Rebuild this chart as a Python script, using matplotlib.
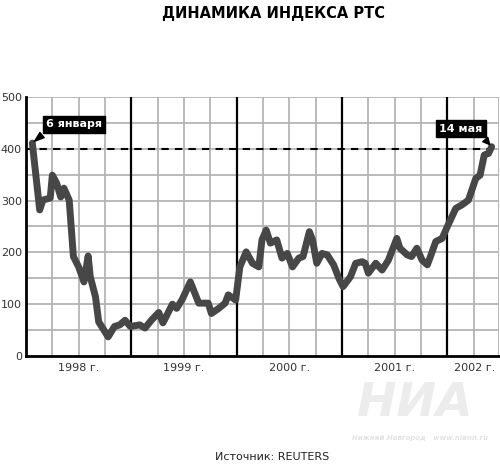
import numpy as np
import matplotlib.pyplot as plt

# RTS index (x in fractional years)
years = [1998.06, 1998.13, 1998.16, 1998.23, 1998.25, 1998.29, 1998.33, 1998.36, 1998.41,
         1998.45, 1998.50, 1998.55, 1998.59, 1998.61, 1998.66, 1998.69, 1998.78, 1998.84,
         1998.89, 1998.94, 1998.99, 1999.08, 1999.13, 1999.19, 1999.26, 1999.30, 1999.39,
         1999.43, 1999.48, 1999.56, 1999.64, 1999.73, 1999.76, 1999.83, 1999.89, 1999.92,
         1999.99, 2000.03, 2000.09, 2000.15, 2000.21, 2000.24, 2000.28, 2000.32, 2000.38,
         2000.43, 2000.48, 2000.53, 2000.59, 2000.63, 2000.69, 2000.72, 2000.76, 2000.81,
         2000.86, 2000.92, 2000.97, 2001.01, 2001.08, 2001.13, 2001.19, 2001.22, 2001.25,
         2001.32, 2001.38, 2001.44, 2001.52, 2001.55, 2001.62, 2001.66, 2001.71, 2001.76,
         2001.81, 2001.85, 2001.89, 2001.95, 2002.00, 2002.08, 2002.14, 2002.20, 2002.27,
         2002.31, 2002.35, 2002.39, 2002.42]
rts = [411, 282, 301, 305, 349, 334, 307, 324, 301,
       192, 172, 143, 193, 153, 114, 66, 37, 57,
       60, 69, 57, 60, 54, 69, 84, 64, 100,
       92, 108, 143, 102, 102, 82, 92, 102, 118,
       108, 172, 201, 179, 172, 224, 243, 218, 224,
       189, 198, 172, 189, 192, 240, 224, 179, 198,
       195, 176, 150, 134, 153, 179, 182, 179, 160,
       179, 166, 185, 227, 208, 195, 192, 208, 185,
       176, 198, 221, 227, 250, 285, 292, 301, 343,
       349, 388, 391, 404]

year_labels = ['1998 г.', '1999 г.', '2000 г.', '2001 г.', '2002 г.']
year_pos = [1998.5, 1999.5, 2000.5, 2001.5, 2002.26]
font = ['DejaVu Sans']

fig = plt.figure(figsize=(5, 4.67), dpi=100)
ax = fig.add_axes([0.052, 0.2377, 0.946, 0.5546])

ax.set_xlim(1998, 2002.49)
ax.set_ylim(0, 500)

# grid: quarters gray, years black
for q in np.arange(1998.25, 2002.49, 0.25):
    if abs(q - round(q)) < 1e-6:
        ax.axvline(q, color='black', lw=1.6, zorder=2)
    else:
        ax.axvline(q, color='#b4b4b4', lw=1.3, zorder=1)
for v in range(50, 501, 50):
    ax.axhline(v, color='#b4b4b4', lw=1.3, zorder=1)
ax.axvline(2002.49, color='#b4b4b4', lw=1.3, zorder=1)

ax.axhline(400, color='black', lw=1.5, ls=(0, (3.5, 3)), zorder=3)

ax.plot(years, rts, color='#474747', lw=5, solid_joinstyle='round',
        solid_capstyle='round', zorder=4)

for s in ['top', 'right']:
    ax.spines[s].set_visible(False)
ax.spines['left'].set_linewidth(2)
ax.spines['bottom'].set_linewidth(2)

ax.set_yticks(range(0, 501, 100))
ax.set_yticklabels([str(v) for v in range(0, 501, 100)], family=font,
                   fontsize=8, color='#333333')
ax.tick_params(axis='y', length=0, pad=3)
ax.set_xticks(year_pos)
ax.set_xticklabels(year_labels, family=font, fontsize=8, color='#333333')
ax.tick_params(axis='x', length=0, pad=5)

ax.annotate('6 января', xy=(years[0], rts[0]), xytext=(1998.19, 447),
            family=font, fontsize=8, fontweight='bold', color='white',
            va='center', ha='left', zorder=6,
            bbox=dict(boxstyle='square,pad=0.3', fc='black', ec='black'),
            arrowprops=dict(arrowstyle='wedge,tail_width=0.6,shrink_factor=0.5',
                            fc='black', ec='black', relpos=(0.05, 0.0)))
ax.annotate('14 мая', xy=(years[-1], rts[-1]), xytext=(2001.92, 439),
            family=font, fontsize=8, fontweight='bold', color='white',
            va='center', ha='left', zorder=6,
            bbox=dict(boxstyle='square,pad=0.3', fc='black', ec='black'),
            arrowprops=dict(arrowstyle='wedge,tail_width=0.6,shrink_factor=0.5',
                            fc='black', ec='black', relpos=(0.95, 0.0)))

fig.text(0.546, 0.972, 'ДИНАМИКА ИНДЕКСА РТС', family=font, fontsize=10.5,
         fontweight='bold', ha='center', va='center')
fig.text(0.544, 0.021, 'Источник: REUTERS', family=font, fontsize=8,
         color='#222222', ha='center', va='center')

# faint watermark
fig.text(0.83, 0.135, 'НИА', family=font, fontsize=34, fontweight='bold',
         style='italic', color='#ececec', ha='center', va='center', zorder=0)
fig.text(0.84, 0.062, 'Нижний Новгород   www.niann.ru', family=font, fontsize=5,
         fontweight='bold', style='italic', color='#e2e2e2', ha='center',
         va='center')

fig.savefig('out.png')
